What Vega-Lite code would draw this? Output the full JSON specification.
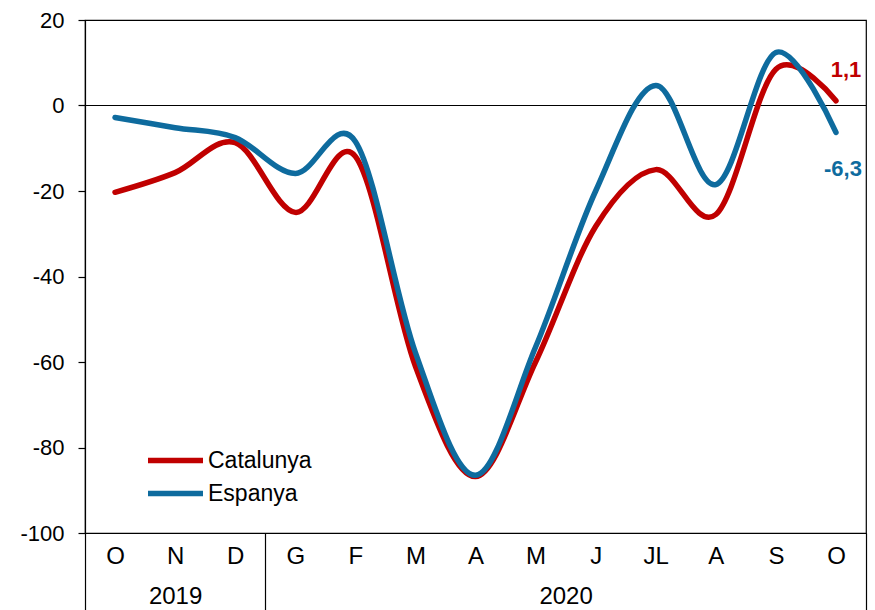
{
  "$schema": "https://vega.github.io/schema/vega-lite/v6.json",
  "autosize": "none",
  "width": 781,
  "height": 513,
  "padding": {"left": 85, "top": 20, "right": 9, "bottom": 77},
  "background": "white",
  "config": {
    "font": "Liberation Sans",
    "view": {"stroke": "black", "strokeWidth": 1.2},
    "axis": {"grid": false, "domainColor": "black", "tickColor": "black", "labelColor": "black", "labelFont": "Liberation Sans"}
  },
  "datasets": {
    "main": [
      {"i": 0, "mes": "O", "serie": "Catalunya", "v": -20.3},
      {"i": 1, "mes": "N", "serie": "Catalunya", "v": -15.7},
      {"i": 2, "mes": "D", "serie": "Catalunya", "v": -8.7},
      {"i": 3, "mes": "G", "serie": "Catalunya", "v": -25.0},
      {"i": 4, "mes": "F", "serie": "Catalunya", "v": -11.9},
      {"i": 5, "mes": "M", "serie": "Catalunya", "v": -61.0},
      {"i": 6, "mes": "A", "serie": "Catalunya", "v": -86.8},
      {"i": 7, "mes": "M", "serie": "Catalunya", "v": -60.0},
      {"i": 8, "mes": "J", "serie": "Catalunya", "v": -28.3},
      {"i": 9, "mes": "JL", "serie": "Catalunya", "v": -15.0},
      {"i": 10, "mes": "A", "serie": "Catalunya", "v": -25.5},
      {"i": 11, "mes": "S", "serie": "Catalunya", "v": 8.5},
      {"i": 12, "mes": "O", "serie": "Catalunya", "v": 1.1},
      {"i": 0, "mes": "O", "serie": "Espanya", "v": -2.8},
      {"i": 1, "mes": "N", "serie": "Espanya", "v": -5.2},
      {"i": 2, "mes": "D", "serie": "Espanya", "v": -7.5},
      {"i": 3, "mes": "G", "serie": "Espanya", "v": -15.9},
      {"i": 4, "mes": "F", "serie": "Espanya", "v": -8.4},
      {"i": 5, "mes": "M", "serie": "Espanya", "v": -57.8},
      {"i": 6, "mes": "A", "serie": "Espanya", "v": -86.5},
      {"i": 7, "mes": "M", "serie": "Espanya", "v": -56.5},
      {"i": 8, "mes": "J", "serie": "Espanya", "v": -20.0},
      {"i": 9, "mes": "JL", "serie": "Espanya", "v": 4.7},
      {"i": 10, "mes": "A", "serie": "Espanya", "v": -18.5},
      {"i": 11, "mes": "S", "serie": "Espanya", "v": 12.4},
      {"i": 12, "mes": "O", "serie": "Espanya", "v": -6.3}
    ],
    "ends": [
      {"i": 12, "serie": "Catalunya", "v": 1.1, "t": "1,1"},
      {"i": 12, "serie": "Espanya", "v": -6.3, "t": "-6,3"}
    ],
    "zero": [
      {"a": -0.5, "b": 12.5, "v": 0}
    ]
  },
  "layer": [
    {
      "data": {"name": "zero"},
      "mark": {"type": "rule", "color": "black", "strokeWidth": 1.2},
      "encoding": {
        "x": {
          "field": "a", "type": "quantitative",
          "scale": {"domain": [-0.5, 12.5], "nice": false, "zero": false},
          "axis": {
            "orient": "bottom", "title": null, "values": [-0.5, 2.5, 12.5], "labels": false,
            "domain": false, "ticks": true, "tickSize": 77, "tickWidth": 1.2, "tickColor": "black"
          }
        },
        "x2": {"field": "b"},
        "y": {
          "field": "v", "type": "quantitative", "scale": {"domain": [-100, 20], "nice": false},
          "axis": {
            "title": null, "values": [-100,-80,-60,-40,-20,0,20], "labelExpr": "datum.value + ''",
            "tickSize": 7, "tickWidth": 1.2, "domainWidth": 1.2, "labelFontSize": 22, "labelPadding": 14
          }
        }
      }
    },
    {
      "data": {"name": "main"},
      "mark": {"type": "line", "interpolate": "cardinal", "strokeWidth": 5.5, "strokeCap": "round"},
      "encoding": {
        "x": {
          "field": "i", "type": "quantitative",
          "scale": {"domain": [-0.5, 12.5], "nice": false, "zero": false},
          "axis": {
            "orient": "bottom", "title": null, "values": [0,1,2,3,4,5,6,7,8,9,10,11,12],
            "labelExpr": "['O','N','D','G','F','M','A','M','J','JL','A','S','O'][datum.value]",
            "ticks": false, "domain": true, "domainWidth": 1.2, "labelFontSize": 24, "labelPadding": 11, "labelFlush": false, "labelOverlap": false
          }
        },
        "y": {"field": "v", "type": "quantitative"},
        "color": {
          "field": "serie", "type": "nominal",
          "scale": {"domain": ["Catalunya", "Espanya"], "range": ["#C00000", "#0E6B9E"]},
          "legend": {
            "title": null, "orient": "none", "legendX": 60, "legendY": 424,
            "symbolType": "stroke", "symbolSize": 3025, "symbolStrokeWidth": 5.5,
            "clipHeight": 33, "rowPadding": 0,
            "labelFontSize": 23, "labelColor": "black", "labelOffset": 2
          }
        }
      }
    },
    {
      "data": {"name": "ends"},
      "transform": [{"filter": "datum.serie == 'Catalunya'"}],
      "mark": {"type": "text", "fontWeight": "bold", "fontSize": 22, "align": "center", "baseline": "middle", "dx": 10, "dy": -31},
      "encoding": {
        "x": {
          "field": "i", "type": "quantitative",
          "scale": {"domain": [-0.5, 12.5], "nice": false, "zero": false},
          "axis": {
            "orient": "bottom", "title": null, "values": [1, 7.5],
            "labelExpr": "datum.value < 3 ? '2019' : '2020'",
            "ticks": false, "domain": false, "labelFontSize": 24, "labelPadding": 51, "labelFlush": false, "labelOverlap": false
          }
        },
        "y": {"field": "v", "type": "quantitative"},
        "text": {"field": "t"},
        "color": {"field": "serie", "type": "nominal", "legend": null}
      }
    },
    {
      "data": {"name": "ends"},
      "transform": [{"filter": "datum.serie == 'Espanya'"}],
      "mark": {"type": "text", "fontWeight": "bold", "fontSize": 22, "align": "center", "baseline": "middle", "dx": 7, "dy": 37},
      "encoding": {
        "x": {
          "field": "i", "type": "quantitative",
          "scale": {"domain": [-0.5, 12.5], "nice": false, "zero": false},
          "axis": null
        },
        "y": {"field": "v", "type": "quantitative"},
        "text": {"field": "t"},
        "color": {"field": "serie", "type": "nominal", "legend": null}
      }
    }
  ],
  "resolve": {"scale": {"x": "independent"}, "axis": {"x": "independent"}}
}
